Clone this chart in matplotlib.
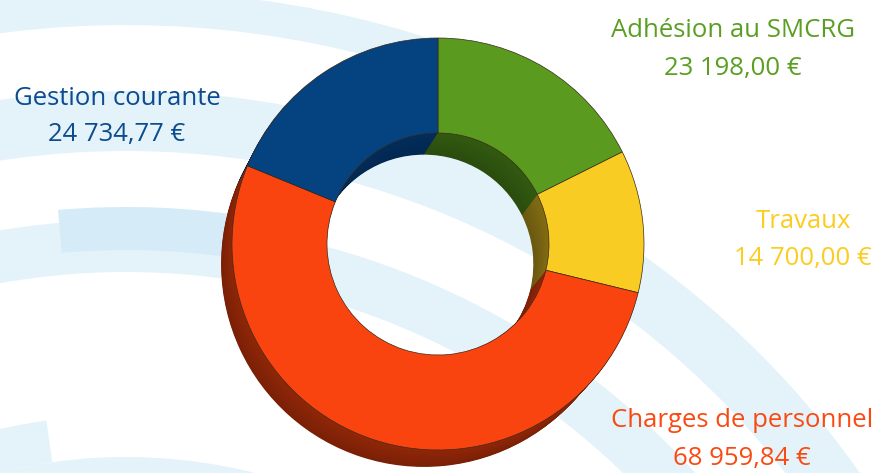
import numpy as np
import matplotlib
matplotlib.use("Agg")
import matplotlib.pyplot as plt
from matplotlib.patches import Wedge
import matplotlib.colors as mcolors

# ---------------- data ----------------
categories = ["Adhésion au SMCRG", "Travaux", "Charges de personnel", "Gestion courante"]
values = [23198.00, 14700.00, 68959.84, 24734.77]
value_labels = ["23 198,00 €", "14 700,00 €", "68 959,84 €", "24 734,77 €"]

# ---------------- style ----------------
face_colors = ["#5a9a1e", "#f8cc22", "#f9440f", "#044280"]
side_colors = ["#2a4c0e", "#6a5810", "#7a2006", "#022852"]
text_colors = ["#5a9e22", "#fccc22", "#fa4a12", "#0b4b8e"]

W, H = 881, 473
fig = plt.figure(figsize=(W / 100, H / 100), dpi=100)
ax = fig.add_axes([0, 0, 1, 1])
ax.set_facecolor("white")

def up(y):
    return H - y

# ---------------- decorative background arcs ----------------
bg_c = (126, up(987))
light, darker = "#e4f2fa", "#d5ebf7"
# (inner radius, outer radius, start angle, end angle, colour)
bands = [(962, 996, 62, 180, light),
         (836, 896, 0, 180, light),
         (715, 767, 0, 180, light),
         (737, 780, 80, 95, darker),
         (480, 530, 0, 180, light),
         (530, 572, 98, 112, light)]
for r0, r1, a0, a1, col in bands:
    ax.add_patch(Wedge(bg_c, r1, a0, a1, width=r1 - r0, facecolor=col,
                       edgecolor="none", zorder=0))

# ---------------- donut ----------------
cx, cy = 438, up(244)
R, r = 206, 111
dx, dyd, k = -14, 20, 0.015
N = 30

for i in range(N, 0, -1):
    t = i / N
    scale = 1 - t * k
    cols = []
    for fc, sc in zip(face_colors, side_colors):
        a = np.array(mcolors.to_rgb(sc))
        b = np.array(mcolors.to_rgb(fc))
        mix = 0.18 * (1 - t)
        cols.append(tuple(a * (1 - mix) + b * mix))
    ax.pie(values, startangle=90, counterclock=False,
           center=(cx + t * dx, cy - t * dyd), radius=R * scale,
           colors=cols, frame=True,
           wedgeprops=dict(width=(R - r) * scale, edgecolor="none", linewidth=0))

ax.pie(values, startangle=90, counterclock=False, center=(cx, cy), radius=R,
       colors=face_colors, frame=True,
       wedgeprops=dict(width=R - r, edgecolor="#3a2a1a", linewidth=0.5))

# ---------------- labels ----------------
label_pos = [(733, 37, 75), (803, 228, 265), (742, 427, 465), (117, 105, 141)]
font = ["Open Sans", "DejaVu Sans"]
for name, val, col, (x, y1, y2) in zip(categories, value_labels, text_colors, label_pos):
    ax.text(x, up(y1), name, color=col, fontsize=18.5, ha="center", va="baseline",
            family=font, zorder=5)
    ax.text(x, up(y2), val, color=col, fontsize=18.5, ha="center", va="baseline",
            family=font, zorder=5)

ax.set_xlim(0, W)
ax.set_ylim(0, H)
ax.set_aspect("equal")
ax.axis("off")
fig.savefig("out.png", dpi=100, facecolor="white")
